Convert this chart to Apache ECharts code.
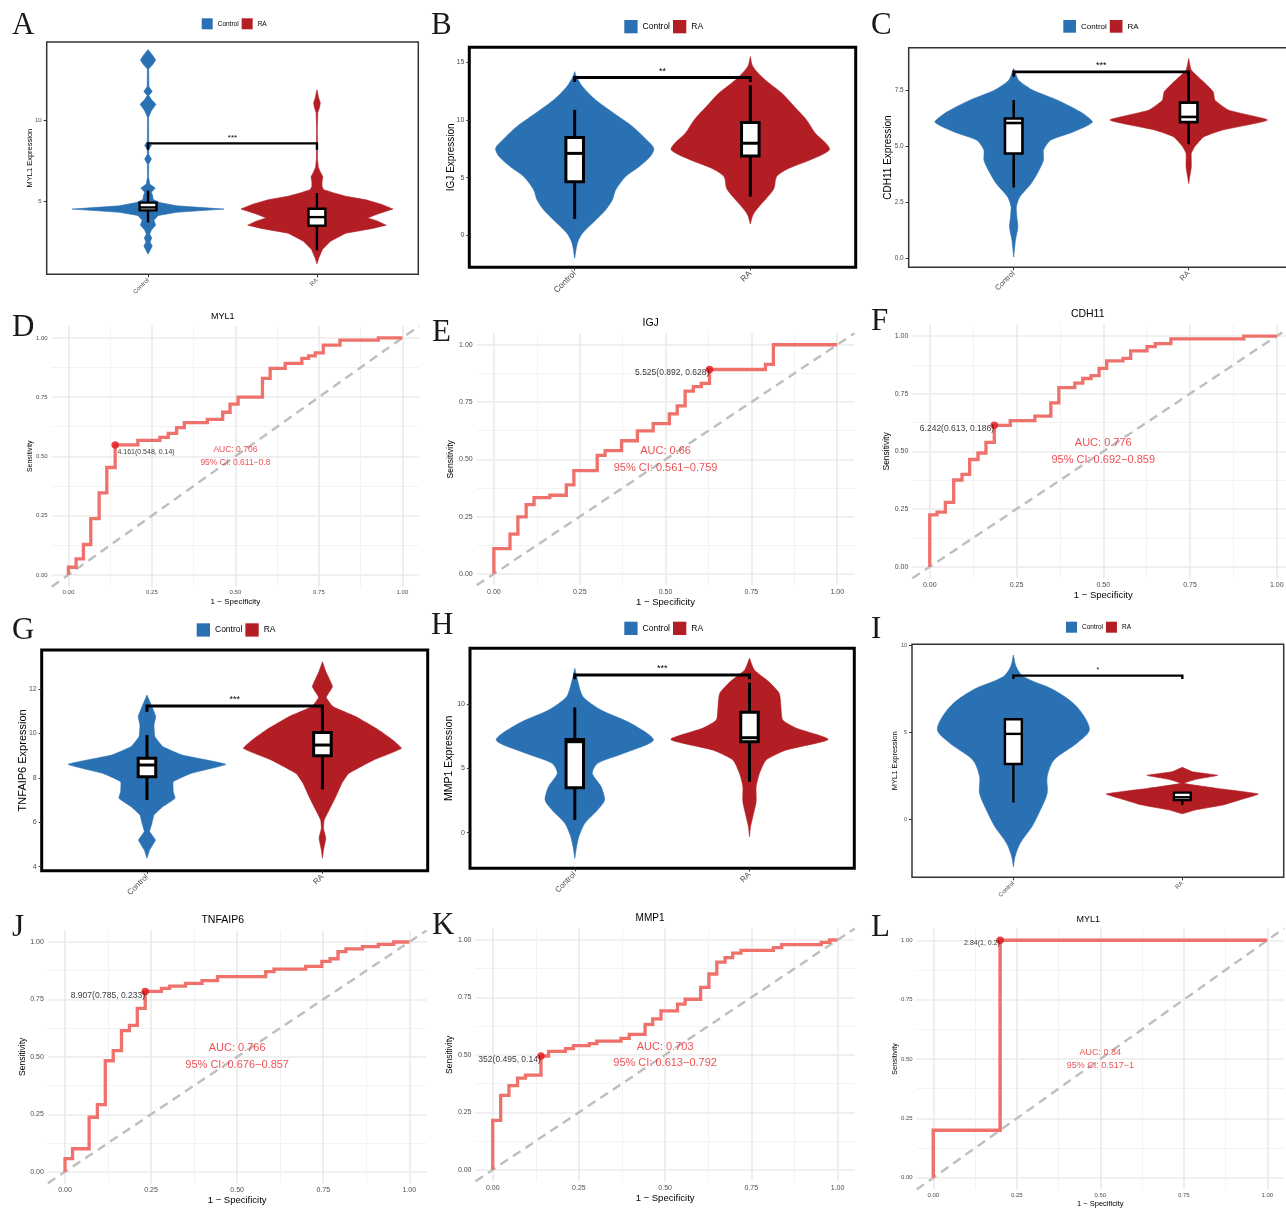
<!DOCTYPE html>
<html><head><meta charset="utf-8">
<script src="https://cdn.jsdelivr.net/npm/echarts@6/dist/echarts.min.js"></script>
<style>html,body{margin:0;padding:0;background:#fff}#c{width:1286px;height:1209px}</style>
</head><body><div id="c"></div><script>
const FONT = '"Liberation Sans", Arial, sans-serif';
const groups = ['Control', 'RA'];
const groupColors = ['#2A71B3', '#B21E24'];

// ---------- violin outlines: [expression, half width (group units)] ----------
const violinA_Control = [[1.7,0],[1.9,0.01],[2.2,0.025],[2.45,0.012],[2.7,0.022],[2.95,0.01],[3.2,0.02],[3.5,0.045],[3.8,0.035],[4.1,0.06],[4.3,0.17],[4.5,0.449],[4.7,0.17],[4.9,0.07],[5.1,0.03],[5.3,0.028],[5.55,0.02],[5.8,0.043],[6.05,0.01],[6.5,0.003],[7.3,0.004],[7.6,0.02],[7.9,0.004],[8.2,0.005],[8.45,0.02],[8.7,0.004],[10.2,0.003],[10.6,0.02],[11.0,0.047],[11.3,0.02],[11.55,0.005],[11.8,0.025],[12.1,0.005],[13.2,0.004],[13.5,0.03],[13.75,0.045],[14.0,0.03],[14.4,0]];
const violinA_RA = [[1.1,0],[1.5,0.012],[2.0,0.033],[2.5,0.08],[3.0,0.17],[3.3,0.33],[3.5,0.41],[3.75,0.36],[3.95,0.3],[4.2,0.36],[4.5,0.45],[4.8,0.38],[5.07,0.29],[5.3,0.17],[5.5,0.1],[5.7,0.04],[5.9,0.03],[6.2,0.03],[6.5,0.035],[6.8,0.02],[7.1,0.008],[7.6,0.003],[9.5,0.002],[10.5,0.005],[10.8,0.015],[11.1,0.02],[11.4,0.01],[11.9,0]];
const violinB_Control = [[-2.0,0],[-0.69,0.015],[0.17,0.044],[1.33,0.12],[2.2,0.176],[3.06,0.214],[3.93,0.233],[5.09,0.29],[5.95,0.366],[6.82,0.43],[7.54,0.45],[8.27,0.41],[9.42,0.33],[10.29,0.25],[11.73,0.12],[12.9,0.044],[13.76,0.01],[14.19,0]];
const violinB_RA = [[0.98,0],[1.76,0.015],[2.49,0.05],[3.35,0.1],[4.08,0.135],[5.09,0.15],[5.81,0.22],[6.53,0.34],[7.4,0.45],[7.98,0.43],[8.84,0.37],[10.0,0.32],[11.16,0.25],[12.31,0.18],[13.47,0.085],[14.62,0.015],[15.49,0]];
const violinC_Control = [[0.07,0],[0.82,0.01],[1.41,0.024],[1.86,0.018],[2.31,0.015],[2.75,0.034],[3.35,0.1],[3.87,0.14],[4.39,0.17],[4.84,0.17],[5.28,0.21],[5.65,0.34],[6.09,0.45],[6.55,0.38],[7.07,0.25],[7.51,0.11],[7.96,0.028],[8.48,0]];
const violinC_RA = [[3.35,0],[3.65,0.006],[4.09,0.015],[4.69,0.015],[4.99,0.034],[5.43,0.085],[5.73,0.19],[6.18,0.45],[6.62,0.23],[7.07,0.15],[7.44,0.14],[7.81,0.095],[8.41,0.015],[8.93,0]];
const violinG_Control = [[4.38,0],[4.75,0.015],[5.2,0.048],[5.58,0.015],[5.95,0.028],[6.33,0.04],[6.7,0.09],[7.08,0.16],[7.38,0.15],[7.83,0.15],[8.2,0.25],[8.61,0.45],[9.03,0.2],[9.41,0.09],[9.86,0.045],[10.38,0.04],[10.76,0.05],[11.21,0.028],[11.73,0]];
const violinG_RA = [[4.38,0],[4.75,0.006],[5.28,0.019],[5.73,0.006],[6.1,0.01],[6.55,0.038],[7.15,0.076],[7.75,0.11],[8.2,0.15],[8.8,0.29],[9.33,0.45],[9.71,0.4],[10.16,0.32],[10.76,0.19],[11.21,0.06],[11.63,0.022],[12.11,0.057],[12.78,0.02],[13.23,0]];
const violinH_Control = [[-1.99,0],[-1.09,0.01],[-0.31,0.023],[0.73,0.057],[1.76,0.13],[2.54,0.17],[3.58,0.15],[4.61,0.1],[5.39,0.13],[6.17,0.28],[7.2,0.45],[8.5,0.32],[9.53,0.15],[10.57,0.047],[11.87,0.015],[12.77,0]];
const violinH_RA = [[-0.31,0],[0.47,0.006],[1.24,0.019],[2.41,0.038],[3.58,0.038],[4.61,0.057],[5.65,0.095],[6.42,0.21],[7.25,0.45],[8.11,0.27],[8.76,0.19],[9.79,0.18],[10.83,0.17],[11.74,0.11],[12.64,0.028],[13.55,0]];
const violinI_Control = [[-2.72,0],[-2.14,0.01],[-1.38,0.04],[-0.42,0.11],[0.54,0.16],[1.49,0.2],[2.45,0.2],[3.4,0.24],[4.36,0.375],[5.16,0.45],[6.46,0.375],[7.42,0.24],[8.18,0.06],[8.76,0.016],[9.43,0]];
const violinI_RA = [[0.31,0],[0.54,0.08],[0.82,0.24],[1.11,0.34],[1.45,0.45],[1.78,0.2],[2.06,0.01],[2.29,0.08],[2.52,0.21],[2.73,0.06],[2.98,0]];

// ---------- box stats: [lower whisker, Q1, median, Q3, upper whisker] ----------
const boxA = [[3.67,4.42,4.6,4.9,5.65],[1.94,3.46,4.0,4.52,5.49]];
const boxB = [[1.42,4.65,7.1,8.47,10.87],[3.35,6.88,7.98,9.77,13.0]];
const boxC = [[3.17,4.69,6.05,6.25,7.07],[5.1,6.09,6.32,6.96,8.33]];
const boxG = [[7.0,8.05,8.58,8.88,9.93],[7.48,9.0,9.48,10.04,11.2]];
const boxH = [[0.98,3.5,7.07,7.25,9.74],[3.96,7.07,7.38,9.35,11.66]];
const boxI = [[0.96,3.17,4.9,5.74,5.74],[0.82,1.1,1.26,1.53,1.53]];

// ---------- significance: [label, bracket height, tick drop] ----------
const sigA = ['***', 8.58, 0.4];
const sigB = ['**', 13.67, 0.37];
const sigC = ['***', 8.33, 0.22];
const sigG = ['***', 11.24, 0.26];
const sigH = ['***', 12.25, 0.33];
const sigI = ['*', 8.24, 0.19];

// ---------- y tick values ----------
const ticksA = [5, 10];
const ticksB = [0, 5, 10, 15];
const ticksC = [0, 2.5, 5, 7.5];
const ticksG = [4, 6, 8, 10, 12];
const ticksH = [0, 5, 10];
const ticksI = [0, 5, 10];
const rocMajor = [0, 0.25, 0.5, 0.75, 1];
const rocMinor = [0.125, 0.375, 0.625, 0.875];

// ---------- ROC curves: [1 - specificity, sensitivity] (top of each rise) ----------
const rocD = [[0,0],[0,0.032],[0.023,0.067],[0.045,0.128],[0.067,0.237],[0.092,0.346],[0.115,0.453],[0.14,0.548],[0.208,0.567],[0.274,0.58],[0.299,0.597],[0.324,0.621],[0.347,0.642],[0.416,0.656],[0.462,0.686],[0.484,0.72],[0.508,0.75],[0.581,0.829],[0.604,0.871],[0.649,0.892],[0.699,0.913],[0.719,0.924],[0.739,0.937],[0.763,0.969],[0.813,0.99],[0.928,1],[1,1]];
const rocE = [[0,0],[0,0.11],[0.047,0.173],[0.07,0.249],[0.094,0.302],[0.117,0.333],[0.163,0.343],[0.211,0.388],[0.233,0.451],[0.301,0.517],[0.324,0.538],[0.372,0.581],[0.418,0.624],[0.464,0.656],[0.511,0.698],[0.534,0.733],[0.557,0.798],[0.581,0.817],[0.604,0.831],[0.628,0.892],[0.791,0.914],[0.814,1],[1,1]];
const rocF = [[0,0],[0,0.225],[0.021,0.237],[0.045,0.279],[0.069,0.376],[0.093,0.4],[0.115,0.465],[0.139,0.493],[0.162,0.539],[0.186,0.613],[0.232,0.633],[0.303,0.653],[0.349,0.71],[0.372,0.776],[0.418,0.796],[0.441,0.816],[0.465,0.828],[0.488,0.86],[0.51,0.892],[0.557,0.903],[0.579,0.936],[0.626,0.954],[0.65,0.967],[0.695,0.988],[0.905,1],[1,1]];
const rocJ = [[0,0],[0,0.057],[0.022,0.1],[0.07,0.237],[0.094,0.292],[0.117,0.483],[0.14,0.527],[0.164,0.614],[0.187,0.637],[0.21,0.711],[0.233,0.785],[0.28,0.798],[0.304,0.808],[0.35,0.82],[0.398,0.832],[0.443,0.849],[0.583,0.871],[0.607,0.882],[0.699,0.894],[0.746,0.916],[0.77,0.927],[0.793,0.958],[0.816,0.97],[0.864,0.98],[0.91,0.99],[0.955,1],[1,1]];
const rocK = [[0,0],[0,0.215],[0.023,0.324],[0.047,0.366],[0.072,0.399],[0.095,0.412],[0.14,0.495],[0.162,0.515],[0.211,0.527],[0.234,0.54],[0.28,0.549],[0.302,0.56],[0.372,0.572],[0.396,0.589],[0.442,0.633],[0.464,0.657],[0.488,0.691],[0.536,0.721],[0.558,0.742],[0.603,0.794],[0.627,0.852],[0.65,0.904],[0.674,0.923],[0.696,0.943],[0.72,0.955],[0.814,0.967],[0.838,0.98],[0.953,0.99],[0.977,1],[1,1]];
const rocL = [[0,0],[0,0.2],[0.2,1],[1,1]];

// ---------- cut-off points and texts ----------
const cutPoints = {D:[0.14,0.548], E:[0.628,0.892], F:[0.186,0.613], J:[0.233,0.785], K:[0.14,0.495], L:[0.2,1]};
const cutTexts = {D:'4.161(0.548, 0.14)', E:'5.525(0.892, 0.628)', F:'6.242(0.613, 0.186)', J:'8.907(0.785, 0.233)', K:'352(0.495, 0.14)', L:'2.84(1, 0.2)'};
const aucTexts = {D:'AUC: 0.706', E:'AUC: 0.66', F:'AUC: 0.776', J:'AUC: 0.766', K:'AUC: 0.703', L:'AUC: 0.84'};
const ciTexts = {D:'95% CI: 0.611\u22120.8', E:'95% CI: 0.561\u22120.759', F:'95% CI: 0.692\u22120.859', J:'95% CI: 0.676\u22120.857', K:'95% CI: 0.613\u22120.792', L:'95% CI: 0.517\u22121'};
const aucAnchor = [0.5, 0.5];
const rocTitles = {D:'MYL1', E:'IGJ', F:'CDH11', J:'TNFAIP6', K:'MMP1', L:'MYL1'};
const ROC_MIN = -0.05, ROC_MAX = 1.05;

// ---------- layout ----------
const violinPanels = [
 {id:'A', lx:12, ly:25.5, prof:[violinA_Control, violinA_RA], sm:[0,0], box:boxA, sig:sigA, ticks:ticksA, dec:0, yName:'MYL1 Expression',
  l:46.7, t:42, w:371.6, h:232.3, yMin:0.45, yMax:14.87, bw:1.5, bc:'#333333', tfs:6, xfs:6, nfs:7.5, ngap:13, legL:201.7, legT:18.3, legS:11, legFs:6.5, lw:2.4, sfs:8},
 {id:'B', lx:431, ly:25.5, prof:[violinB_Control, violinB_RA], sm:[0.3,0.3], box:boxB, sig:sigB, ticks:ticksB, dec:0, yName:'IGJ Expression',
  l:469.3, t:47.3, w:386.4, h:220, yMin:-2.78, yMax:16.3, bw:3, bc:'#000000', tfs:7, xfs:8.5, nfs:10, ngap:13.5, legL:624.3, legT:20, legS:13.3, legFs:8.5, lw:3, sfs:9},
 {id:'C', lx:871, ly:25.5, prof:[violinC_Control, violinC_RA], sm:[0.2,0.15], box:boxC, sig:sigC, ticks:ticksC, dec:1, yName:'CDH11 Expression',
  l:908.7, t:47.7, w:385, h:219.6, yMin:-0.39, yMax:9.41, bw:1.5, bc:'#333333', tfs:6.5, xfs:7.5, nfs:10, ngap:15.5, legL:1063.3, legT:20, legS:12.7, legFs:8, lw:2.6, sfs:9},
 {id:'G', lx:12, ly:631, prof:[violinG_Control, violinG_RA], sm:[0.1,0.12], box:boxG, sig:sigG, ticks:ticksG, dec:0, yName:'TNFAIP6 Expression',
  l:41.7, t:650, w:386, h:220.7, yMin:3.82, yMax:13.76, bw:3, bc:'#000000', tfs:7, xfs:8, nfs:11, ngap:13, legL:196.7, legT:623.3, legS:13.3, legFs:8.5, lw:3, sfs:9},
 {id:'H', lx:431, ly:626, prof:[violinH_Control, violinH_RA], sm:[0.25,0.2], box:boxH, sig:sigH, ticks:ticksH, dec:0, yName:'MMP1 Expression',
  l:470, t:648.3, w:384.3, h:220, yMin:-2.77, yMax:14.33, bw:3, bc:'#000000', tfs:7, xfs:8, nfs:10.5, ngap:15, legL:624.3, legT:621.7, legS:13.3, legFs:8.5, lw:3, sfs:9},
 {id:'I', lx:871, ly:630, prof:[violinI_Control, violinI_RA], sm:[0.3,0.1], box:boxI, sig:sigI, ticks:ticksI, dec:0, yName:'MYL1 Expression',
  l:912, t:644.3, w:371.7, h:233, yMin:-3.33, yMax:10.04, bw:1.5, bc:'#333333', tfs:5.5, xfs:6, nfs:7.5, ngap:13, legL:1066, legT:621.7, legS:11, legFs:6.5, lw:2.4, sfs:7}
];
const rocPanels = [
 {id:'D', lx:12, ly:328, roc:rocD, tx:222.7, ty:317, l:51.7, t:326, w:367.4, h:260.7, tfs:6, titleFs:9, xnfs:8, xgap:11, ynfs:7, ygap:18, lw:3.3, afs:8.5, alh:13.6, cfs:7, cpos:'right', coff:[-1.5,6.7]},
 {id:'E', lx:432, ly:333, roc:rocE, tx:650.7, ty:323.3, l:476.7, t:333.3, w:377.7, h:252, tfs:7, titleFs:10.5, xnfs:9.5, xgap:12, ynfs:8.5, ygap:21.5, lw:3.3, afs:11, alh:16.4, cfs:8.5, cpos:'left', coff:[3.5,3.4]},
 {id:'F', lx:871, ly:322, roc:rocF, tx:1087.7, ty:314, l:912.4, t:324.5, w:381.7, h:253.8, tfs:7, titleFs:10.5, xnfs:9.5, xgap:12.5, ynfs:8.5, ygap:21.2, lw:3.3, afs:11, alh:17.4, cfs:8.5, cpos:'left', coff:[3.5,3.4]},
 {id:'J', lx:12, ly:928, roc:rocJ, tx:222.7, ty:920, l:47.8, t:930.5, w:378.7, h:252.7, tfs:7, titleFs:10.5, xnfs:9.5, xgap:12.5, ynfs:8.5, ygap:20.6, lw:3.3, afs:11, alh:17, cfs:8.5, cpos:'left', coff:[3.5,4.3]},
 {id:'K', lx:432, ly:925.5, roc:rocK, tx:650, ty:918.3, l:475.5, t:928.5, w:379.2, h:252.7, tfs:7, titleFs:10, xnfs:9.5, xgap:12.2, ynfs:8.5, ygap:21, lw:3.3, afs:11, alh:16.6, cfs:8.5, cpos:'left', coff:[3.5,4]},
 {id:'L', lx:871, ly:927.5, roc:rocL, tx:1088.3, ty:919.3, l:916.6, t:928.4, w:367.4, h:261.2, tfs:6, titleFs:9, xnfs:7.5, xgap:10.5, ynfs:7, ygap:17.6, lw:3.5, afs:9, alh:13.7, cfs:7, cpos:'left', coff:[3.5,3]}
];

const option = {
  animation: false,
  backgroundColor: '#ffffff',
  textStyle: {fontFamily: FONT},
  grid: [], xAxis: [], yAxis: [], series: [], legend: [], graphic: []
};

function letter(id, x, y) {
  option.graphic.push({type:'text', x:x, y:y, silent:true,
    style:{text:id, font:'31px "Liberation Serif", "Times New Roman", serif', fill:'#1a1a1a', align:'left', textAlign:'left', verticalAlign:'middle', textVerticalAlign:'middle'}});
}

violinPanels.forEach(p => {
  const gi = option.grid.length;
  option.grid.push({left:p.l, top:p.t, width:p.w, height:p.h, show:true, borderColor:p.bc, borderWidth:p.bw,
    backgroundColor:'transparent', containLabel:false, outerBoundsMode:'none'});
  const xi = option.xAxis.length;
  option.xAxis.push({type:'value', gridIndex:gi, min:0.4, max:2.6,
    axisLine:{show:false, onZero:false}, splitLine:{show:false},
    axisTick:{show:true, length:3, lineStyle:{color:'#333', width:1}, customValues:[1,2]},
    axisLabel:{customValues:[1,2], formatter:v => groups[Math.round(v)-1], rotate:45, fontSize:p.xfs, color:'#4D4D4D', margin:5}});
  const yi = option.yAxis.length;
  option.yAxis.push({type:'value', gridIndex:gi, min:p.yMin, max:p.yMax,
    name:p.yName, nameLocation:'middle', nameGap:p.ngap, nameMoveOverlap:false,
    nameTextStyle:{fontSize:p.nfs, color:'#000'},
    axisLine:{show:false, onZero:false}, splitLine:{show:false},
    axisTick:{show:true, length:3, lineStyle:{color:'#333', width:1}, customValues:p.ticks},
    axisLabel:{customValues:p.ticks, formatter:v => v.toFixed(p.dec), fontSize:p.tfs, color:'#4D4D4D', margin:5}});
  // violins
  groups.forEach((g, k) => {
    const prof = p.prof[k];
    const gx = k + 1;
    const sm = p.sm[k];
    option.series.push({type:'custom', name:g, xAxisIndex:xi, yAxisIndex:yi, z:2, silent:true,
      itemStyle:{color:groupColors[k]},
      data:[[gx, prof[0][0], prof[prof.length-1][0]]], encode:{x:0, y:[1,2]},
      renderItem:(params, api) => {
        const pts = [];
        prof.forEach(d => pts.push(api.coord([gx + d[1], d[0]])));
        for (let i = prof.length - 1; i >= 0; i--) pts.push(api.coord([gx - prof[i][1], prof[i][0]]));
        return {type:'polygon', shape:{points:pts, smooth:sm}, style:{fill:groupColors[k], stroke:groupColors[k], lineWidth:0.6}};
      }});
  });
  // boxes
  option.series.push({type:'custom', xAxisIndex:xi, yAxisIndex:yi, z:3, silent:true,
    data:p.box.map((b, k) => [k+1].concat(b)), encode:{x:0, y:[1,2,3,4,5]},
    renderItem:(params, api) => {
      const x = api.value(0), lo = api.value(1), q1 = api.value(2), med = api.value(3), q3 = api.value(4), hi = api.value(5);
      const hw = 0.05;
      const a = api.coord([x, lo]), b = api.coord([x, q1]), c = api.coord([x, q3]), d = api.coord([x, hi]);
      const tl = api.coord([x - hw, q3]), br = api.coord([x + hw, q1]);
      const ml = api.coord([x - hw, med]), mr = api.coord([x + hw, med]);
      const st = {stroke:'#000', lineWidth:p.lw};
      return {type:'group', children:[
        {type:'line', shape:{x1:a[0], y1:a[1], x2:b[0], y2:b[1]}, style:st},
        {type:'line', shape:{x1:c[0], y1:c[1], x2:d[0], y2:d[1]}, style:st},
        {type:'rect', shape:{x:tl[0], y:tl[1], width:br[0]-tl[0], height:br[1]-tl[1]}, style:{fill:'#fff', stroke:'#000', lineWidth:p.lw}},
        {type:'line', shape:{x1:ml[0], y1:ml[1], x2:mr[0], y2:mr[1]}, style:st}
      ]};
    }});
  // significance bracket
  option.series.push({type:'custom', xAxisIndex:xi, yAxisIndex:yi, z:4, silent:true,
    data:[[1, 2, p.sig[1], p.sig[2]]], encode:{x:[0,1], y:2},
    renderItem:(params, api) => {
      const x1 = api.value(0), x2 = api.value(1), y = api.value(2), dr = api.value(3);
      const a = api.coord([x1, y - dr]), b = api.coord([x1, y]), c = api.coord([x2, y]), d = api.coord([x2, y - dr]);
      return {type:'group', children:[
        {type:'polyline', shape:{points:[a, b, c, d]}, style:{stroke:'#000', lineWidth:p.lw, fill:'none'}},
        {type:'text', x:(b[0] + c[0]) / 2, y:b[1] - 2, style:{text:p.sig[0], fill:'#000', fontSize:p.sfs, fontFamily:FONT, align:'center', verticalAlign:'bottom'}}
      ]};
    }});
  option.legend.push({left:p.legL, top:p.legT, padding:0, itemGap:3, itemWidth:p.legS, itemHeight:p.legS, icon:'rect',
    selectedMode:false, orient:'horizontal',
    textStyle:{fontSize:p.legFs, color:'#000', fontFamily:FONT},
    data:groups.map((g, k) => ({name:g, itemStyle:{color:groupColors[k], borderWidth:0}}))});
  letter(p.id, p.lx, p.ly);
});

rocPanels.forEach(p => {
  const gi = option.grid.length;
  option.grid.push({left:p.l, top:p.t, width:p.w, height:p.h, show:false, containLabel:false, outerBoundsMode:'none'});
  const xi = option.xAxis.length;
  option.xAxis.push({type:'value', gridIndex:gi, min:ROC_MIN, max:ROC_MAX, position:'bottom',
    name:'1 \u2212 Specificity', nameLocation:'middle', nameGap:p.xgap, nameMoveOverlap:false,
    nameTextStyle:{fontSize:p.xnfs, color:'#000'},
    axisLine:{show:false, onZero:false}, axisTick:{show:false, customValues:rocMajor},
    axisLabel:{customValues:rocMajor, formatter:v => v.toFixed(2), fontSize:p.tfs, color:'#4D4D4D', margin:3},
    splitLine:{show:true, lineStyle:{color:'#EBEBEB', width:1.7}}, z:0});
  option.xAxis.push({type:'value', gridIndex:gi, min:ROC_MIN, max:ROC_MAX, position:'top',
    axisLine:{show:false, onZero:false}, axisTick:{show:false, customValues:rocMinor}, axisLabel:{show:false, customValues:rocMinor},
    splitLine:{show:true, lineStyle:{color:'#F3F3F3', width:1}}, z:0});
  const yi = option.yAxis.length;
  option.yAxis.push({type:'value', gridIndex:gi, min:ROC_MIN, max:ROC_MAX, position:'left',
    name:'Sensitivity', nameLocation:'middle', nameGap:p.ygap, nameMoveOverlap:false,
    nameTextStyle:{fontSize:p.ynfs, color:'#000'},
    axisLine:{show:false, onZero:false}, axisTick:{show:false, customValues:rocMajor},
    axisLabel:{customValues:rocMajor, formatter:v => v.toFixed(2), fontSize:p.tfs, color:'#4D4D4D', margin:4},
    splitLine:{show:true, lineStyle:{color:'#EBEBEB', width:1.7}}, z:0});
  option.yAxis.push({type:'value', gridIndex:gi, min:ROC_MIN, max:ROC_MAX, position:'right',
    axisLine:{show:false, onZero:false}, axisTick:{show:false, customValues:rocMinor}, axisLabel:{show:false, customValues:rocMinor},
    splitLine:{show:true, lineStyle:{color:'#F3F3F3', width:1}}, z:0});
  // reference diagonal y = x across the panel
  option.series.push({type:'line', xAxisIndex:xi, yAxisIndex:yi, silent:true, z:2,
    data:[[ROC_MIN, ROC_MIN], [ROC_MAX, ROC_MAX]], symbol:'none', showSymbol:false,
    lineStyle:{color:'#BEBEBE', width:2.4, type:[9,6]}});
  // ROC step curve
  option.series.push({type:'line', xAxisIndex:xi, yAxisIndex:yi, silent:true, z:3, step:'end',
    data:p.roc, symbol:'none', showSymbol:false,
    lineStyle:{color:'#EE716C', width:p.lw, cap:'butt', join:'miter'}});
  // best cut-off point
  option.series.push({type:'scatter', xAxisIndex:xi, yAxisIndex:yi, silent:true, z:4,
    data:[cutPoints[p.id]], symbol:'circle', symbolSize:7.5, itemStyle:{color:'#E3191C'},
    label:{show:true, position:p.cpos, distance:0, offset:p.coff, formatter:cutTexts[p.id], fontSize:p.cfs, color:'#000', fontFamily:FONT}});
  // AUC annotation
  option.series.push({type:'scatter', xAxisIndex:xi, yAxisIndex:yi, silent:true, z:5,
    data:[aucAnchor], symbol:'circle', symbolSize:1, itemStyle:{color:'rgba(0,0,0,0)'},
    label:{show:true, position:'inside', formatter:aucTexts[p.id] + '\n' + ciTexts[p.id], fontSize:p.afs, lineHeight:p.alh, color:'#E8262A', align:'center', fontFamily:FONT}});
  option.graphic.push({type:'text', x:p.tx, y:p.ty, silent:true,
    style:{text:rocTitles[p.id], font:p.titleFs + 'px ' + FONT, fill:'#000', align:'center', textAlign:'center', verticalAlign:'middle', textVerticalAlign:'middle'}});
  letter(p.id, p.lx, p.ly);
});

const chart = echarts.init(document.getElementById('c'), null, {renderer:'canvas', width:1286, height:1209});
chart.setOption(option);
</script></body></html>
